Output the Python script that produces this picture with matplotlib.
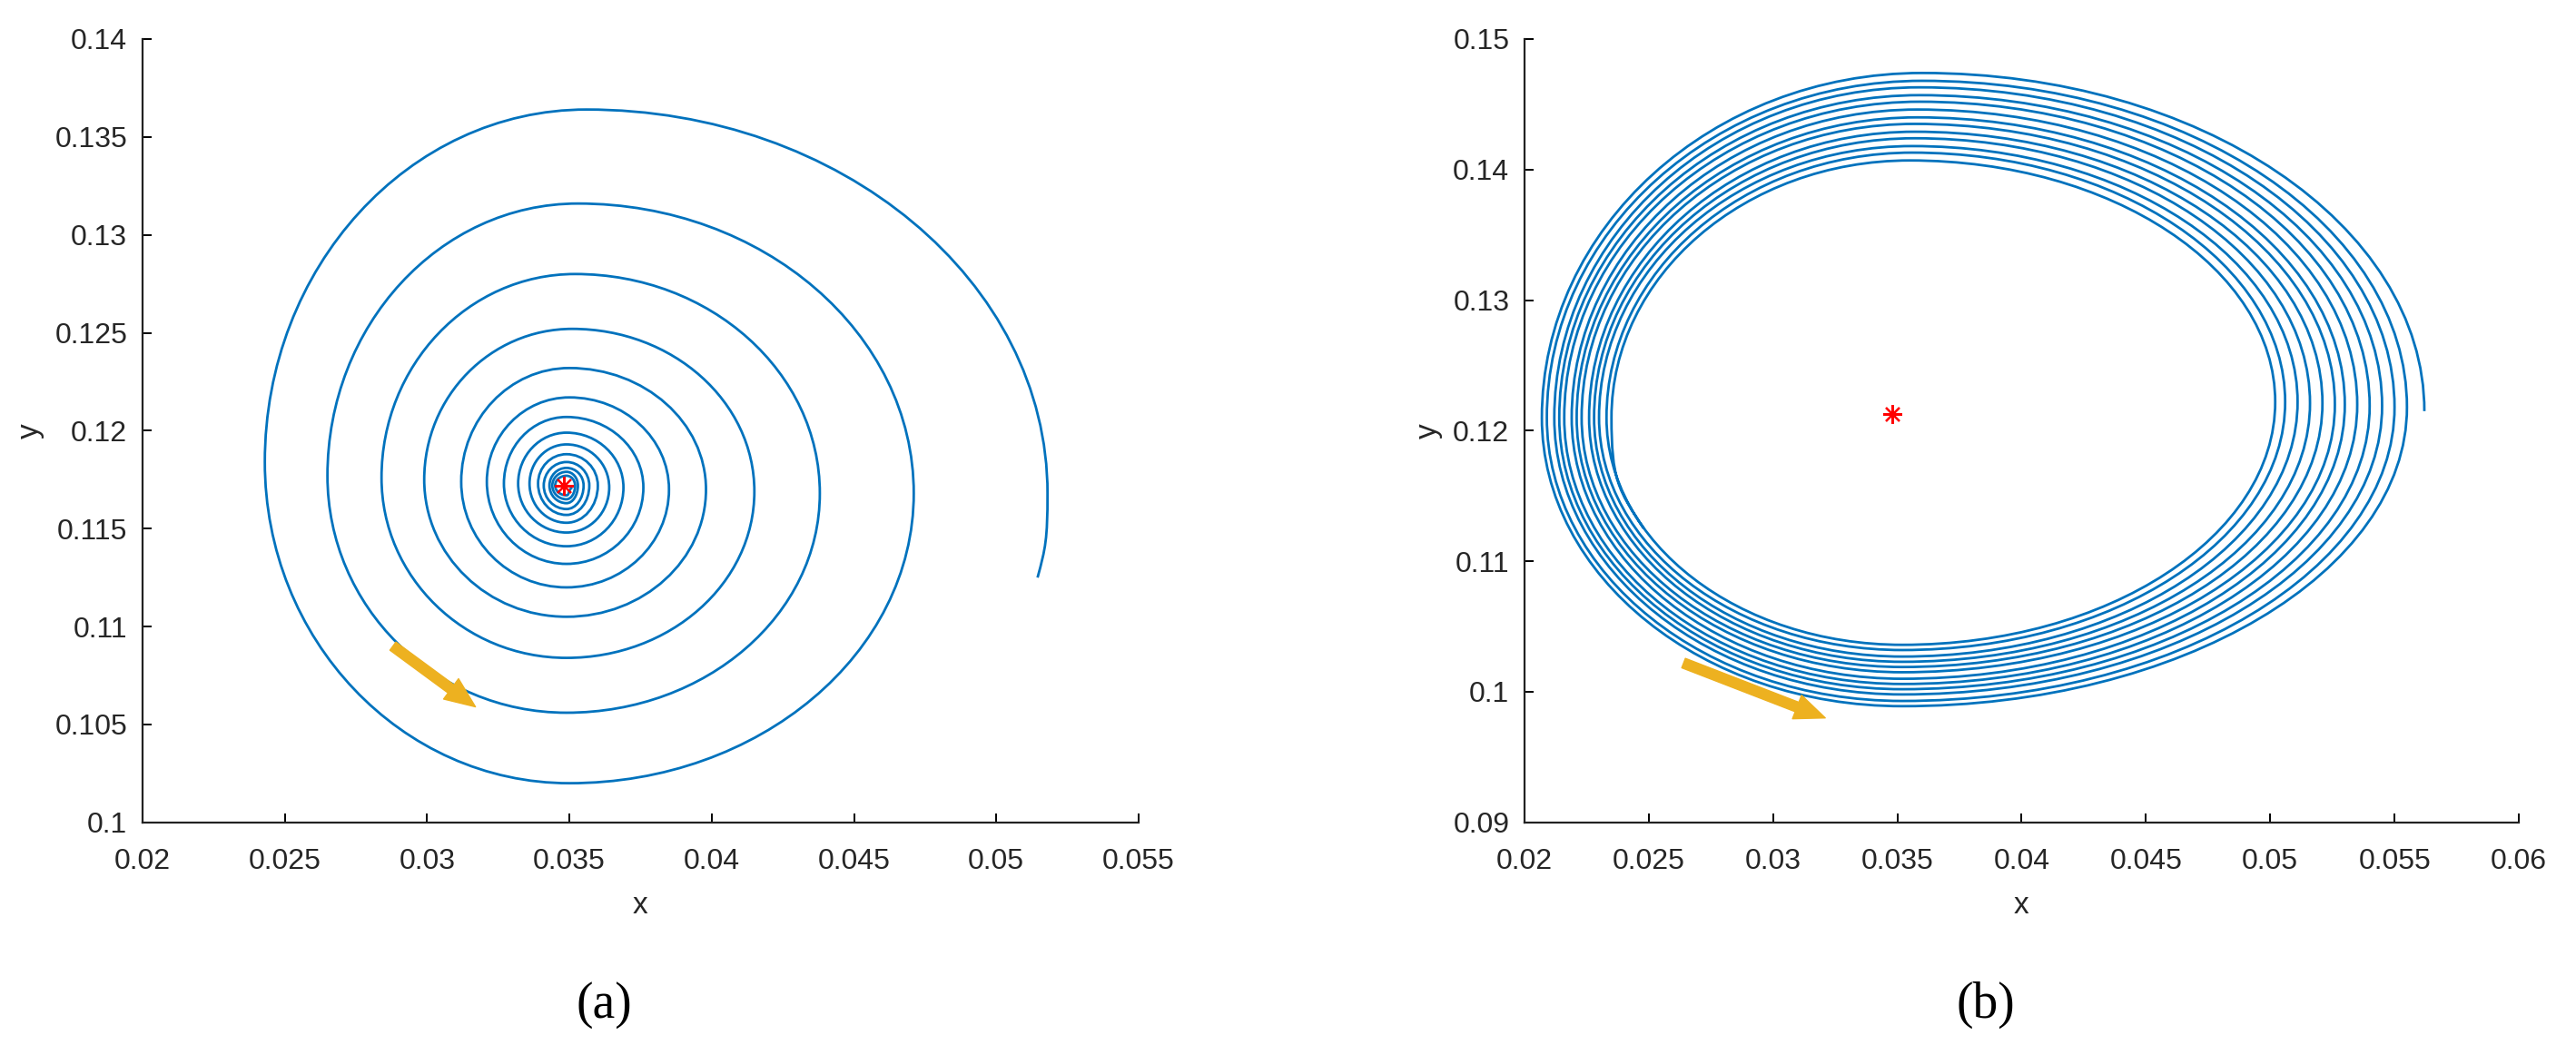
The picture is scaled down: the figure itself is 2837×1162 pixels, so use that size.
import matplotlib.pyplot as plt
from matplotlib.path import Path
from matplotlib.patches import PathPatch
from matplotlib.ticker import FormatStrFormatter

plt.rcParams['font.family'] = ['Liberation Sans', 'DejaVu Sans']

# ---------------- panel (a): trajectory spiralling into a stable focus ----------------
a_start = (0.05145, 0.1125)
a_right_x = [0.0518, 0.0471, 0.0438, 0.0415, 0.0398, 0.0385, 0.0376, 0.0369,
             0.0364, 0.0360, 0.0357, 0.0355, 0.0353, 0.0352]
a_right_y = [0.1168, 0.1168, 0.1168, 0.1169, 0.1170, 0.1170, 0.1171, 0.1171,
             0.1171, 0.1172, 0.1172, 0.1172, 0.1172, 0.1172]
a_top_y = [0.1364, 0.1316, 0.1280, 0.1252, 0.1232, 0.1217, 0.1207, 0.1199,
           0.1193, 0.1188, 0.1184, 0.1181, 0.1179, 0.1177]
a_top_x = [0.0356, 0.0353, 0.0352, 0.0351, 0.0350, 0.0350, 0.0349, 0.0349,
           0.0349, 0.0349, 0.0349, 0.0349, 0.0349, 0.0349]
a_left_x = [0.0243, 0.0265, 0.0284, 0.0299, 0.0312, 0.0321, 0.0327, 0.0332,
            0.0336, 0.0339, 0.0341, 0.0343, 0.0344, 0.0345]
a_left_y = [0.1184, 0.1177, 0.1176, 0.1175, 0.1174, 0.1174, 0.1173, 0.1173,
            0.1173, 0.1173, 0.1172, 0.1172, 0.1172, 0.1172]
a_bottom_y = [0.1020, 0.1056, 0.1084, 0.1105, 0.1120, 0.1132, 0.1141, 0.1148,
              0.1153, 0.1157, 0.1160, 0.1163, 0.1165, 0.1167]
a_bottom_x = [0.0350, 0.0349, 0.0349, 0.0349, 0.0349, 0.0349, 0.0349, 0.0349,
              0.0349, 0.0349, 0.0349, 0.0349, 0.0349, 0.0349]
a_end = (0.0351, 0.1171)
a_equilibrium = (0.0348, 0.1172)
a_arrow_tail = (0.0288, 0.1090)
a_arrow_head = (0.0317, 0.1059)
a_xticks = [0.02, 0.025, 0.03, 0.035, 0.04, 0.045, 0.05, 0.055]
a_yticks = [0.1, 0.105, 0.11, 0.115, 0.12, 0.125, 0.13, 0.135, 0.14]

# ---------------- panel (b): trajectory winding onto a limit cycle ----------------
b_start = (0.0562, 0.1215)
b_top_y = [0.1474, 0.1468, 0.1463, 0.1457, 0.1452, 0.1446, 0.1440, 0.1435,
           0.1429, 0.1424, 0.1418, 0.1413, 0.1407]
b_top_x = [0.0360, 0.0360, 0.0359, 0.0359, 0.0359, 0.0358, 0.0358, 0.0357,
           0.0357, 0.0357, 0.0356, 0.0356, 0.0355]
b_left_x = [0.0207, 0.0209, 0.0212, 0.0214, 0.0216, 0.0219, 0.0221, 0.0223,
            0.0226, 0.0228, 0.0230, 0.0233, 0.0235]
b_left_y = [0.1210, 0.1210, 0.1210, 0.1210, 0.1210, 0.1210, 0.1210, 0.1210,
            0.1210, 0.1210, 0.1210, 0.1210, 0.1210]
b_bottom_y = [0.0989, 0.0993, 0.0998, 0.1002, 0.1006, 0.1010, 0.1015, 0.1019,
              0.1023, 0.1027, 0.1032, 0.1036]
b_bottom_x = [0.0352, 0.0352, 0.0352, 0.0352, 0.0352, 0.0352, 0.0352, 0.0352,
              0.0352, 0.0352, 0.0352, 0.0352]
b_right_x = [0.0555, 0.0550, 0.0545, 0.0540, 0.0535, 0.0530, 0.0526, 0.0521,
             0.0516, 0.0511, 0.0506, 0.0502]
b_right_y = [0.1218, 0.1218, 0.1219, 0.1219, 0.1220, 0.1220, 0.1220, 0.1221,
             0.1221, 0.1222, 0.1222, 0.1222]
b_end = (0.0248, 0.1125)
b_equilibrium = (0.0348, 0.1213)
b_arrow_tail = (0.0264, 0.1022)
b_arrow_head = (0.0321, 0.0980)
b_xticks = [0.02, 0.025, 0.03, 0.035, 0.04, 0.045, 0.05, 0.055, 0.06]
b_yticks = [0.09, 0.1, 0.11, 0.12, 0.13, 0.14, 0.15]

LINE = '#0072BD'
ARROW = '#EDB120'


def ctrl(p, q, kind, k):
    # control point next to p, for a curve leaving p towards q
    if kind in 'RL':          # vertical tangent at left/right extremes
        return (p[0], p[1] + k * (q[1] - p[1]))
    if kind in 'TB':          # horizontal tangent at top/bottom extremes
        return (p[0] + k * (q[0] - p[0]), p[1])
    return (p[0] + 0.8 * (q[0] - p[0]), p[1] + 0.35 * (q[1] - p[1]))


def spiral_path(pts, kinds, k=0.5523):
    verts = [pts[0]]
    codes = [Path.MOVETO]
    for i in range(len(pts) - 1):
        p, q = pts[i], pts[i + 1]
        verts += [ctrl(p, q, kinds[i], k), ctrl(q, p, kinds[i + 1], k), q]
        codes += [Path.CURVE4] * 3
    return Path(verts, codes)


def turns(order, series):
    # series: dict kind -> (xs, ys); walk the extremes turn by turn in the given order
    pts, kinds = [], []
    n = max(len(v[0]) for v in series.values())
    for i in range(n):
        for kind in order:
            xs, ys = series[kind]
            if i < len(xs):
                pts.append((xs[i], ys[i]))
                kinds.append(kind)
    return pts, kinds


def style_axes(ax, xticks, yticks):
    ax.set_xlim(xticks[0], xticks[-1])
    ax.set_ylim(yticks[0], yticks[-1])
    ax.set_xticks(xticks)
    ax.set_yticks(yticks)
    ax.xaxis.set_major_formatter(FormatStrFormatter('%g'))
    ax.yaxis.set_major_formatter(FormatStrFormatter('%g'))
    for s in ['top', 'right']:
        ax.spines[s].set_visible(False)
    for s in ['left', 'bottom']:
        ax.spines[s].set_linewidth(1.6)
        ax.spines[s].set_color('#222222')
    ax.tick_params(direction='in', length=7, width=1.4, labelsize=23,
                   labelcolor='#262626')
    ax.tick_params(axis='x', pad=20)
    ax.tick_params(axis='y', pad=12)
    ax.set_xlabel('x', fontsize=24, color='#262626', labelpad=13)
    ax.set_ylabel('y', fontsize=24, color='#262626', labelpad=8)


fig = plt.figure(figsize=(28.37, 11.62), dpi=100)
ax1 = fig.add_axes([0.0553, 0.2205, 0.3867, 0.7425])
ax2 = fig.add_axes([0.5918, 0.2205, 0.3860, 0.7425])
arrow_style = 'simple,head_length=1.2,head_width=1.0,tail_width=0.4'

# panel (a)
pa, ka = turns('RTLB', {'R': (a_right_x, a_right_y), 'T': (a_top_x, a_top_y),
                        'L': (a_left_x, a_left_y), 'B': (a_bottom_x, a_bottom_y)})
pa = [a_start] + pa + [a_end]
ka = ['S'] + ka + ['E']
ax1.add_patch(PathPatch(spiral_path(pa, ka), fill=False, edgecolor=LINE, lw=2))
ax1.plot(*a_equilibrium, marker=(8, 2, 0), color='red', ms=15, mew=1.6)
ax1.annotate('', xy=a_arrow_head, xytext=a_arrow_tail,
             arrowprops=dict(arrowstyle=arrow_style, color=ARROW,
                             shrinkA=0, shrinkB=0, mutation_scale=20))
style_axes(ax1, a_xticks, a_yticks)

# panel (b)
pb, kb = turns('TLBR', {'R': (b_right_x, b_right_y), 'T': (b_top_x, b_top_y),
                        'L': (b_left_x, b_left_y), 'B': (b_bottom_x, b_bottom_y)})
pb = [b_start] + pb + [b_end]
kb = ['R'] + kb + ['E']
ax2.add_patch(PathPatch(spiral_path(pb, kb), fill=False, edgecolor=LINE, lw=2))
ax2.plot(*b_equilibrium, marker=(8, 2, 0), color='red', ms=15, mew=1.6)
ax2.annotate('', xy=b_arrow_head, xytext=b_arrow_tail,
             arrowprops=dict(arrowstyle=arrow_style, color=ARROW,
                             shrinkA=0, shrinkB=0, mutation_scale=20))
style_axes(ax2, b_xticks, b_yticks)

serif = ['Liberation Serif', 'DejaVu Serif']
fig.text(0.2346, 0.047, '(a)', ha='center', va='center', fontsize=40, family=serif)
fig.text(0.7708, 0.047, '(b)', ha='center', va='center', fontsize=40, family=serif)

fig.savefig('out.png', dpi=100)
